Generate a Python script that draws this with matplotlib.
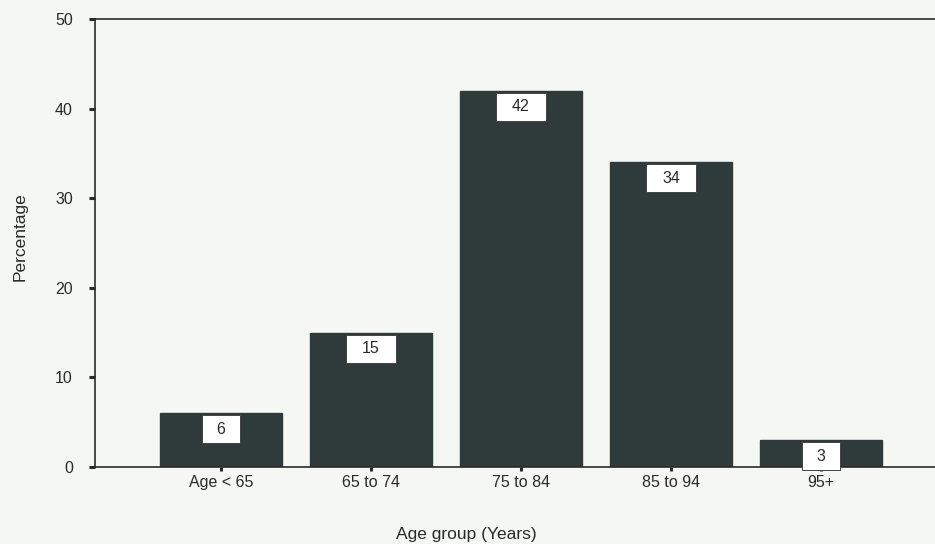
import matplotlib.pyplot as plt
from matplotlib.patches import Rectangle
from matplotlib.transforms import ScaledTranslation

plt.rcParams['font.family'] = ['Liberation Sans', 'DejaVu Sans']

age_groups = ["Age < 65", "65 to 74", "75 to 84", "85 to 94", "95+"]
percentages = [6, 15, 42, 34, 3]
y_ticks = [0, 10, 20, 30, 40, 50]

BG = "#f5f7f3"
BAR = "#2f3a3a"
INK = "#2a2a2a"
DPI = 100

fig = plt.figure(figsize=(9.35, 5.44), dpi=DPI, facecolor=BG)
ax = fig.add_axes([95 / 935, 77 / 544, 1 - 95 / 935, 448 / 544])
ax.set_facecolor(BG)

x = list(range(len(age_groups)))
ax.bar(x, percentages, width=0.81, color=BAR, edgecolor=BAR, zorder=2)

ax.set_xlim(-0.84, 4.76)
ax.set_ylim(0, 50)

# white value boxes hanging just under the top of each bar (sizes in pixels)
for xi, v in zip(x, percentages):
    label = str(v)
    w_px = 26 + 12 * len(label)
    h_px = 28
    top_gap = 2
    anchor = fig.dpi_scale_trans + ScaledTranslation(xi, v, ax.transData)
    box = Rectangle((-w_px / 2 / DPI, -(h_px + top_gap) / DPI), w_px / DPI, h_px / DPI,
                    transform=anchor, fc="white", ec="#444444", lw=0.7, zorder=3,
                    clip_on=False)
    ax.add_patch(box)
    ax.text(0, -(h_px / 2 + top_gap) / DPI, label, transform=anchor,
            ha="center", va="center", fontsize=11.5, color=INK, zorder=4)

ax.set_yticks(y_ticks)
ax.set_xticks(x)
ax.set_xticklabels(age_groups)

for side in ("left", "top", "bottom"):
    ax.spines[side].set_color(INK)
    ax.spines[side].set_linewidth(1.2)
ax.spines["right"].set_visible(False)

ax.tick_params(axis="y", direction="out", length=4, width=2.2, pad=12,
               labelsize=11.5, colors=INK)
ax.tick_params(axis="x", direction="out", length=3, width=2.2, pad=3,
               labelsize=11.5, colors=INK)

fig.text(20 / 935, 1 - 237 / 544, "Percentage", rotation=90, ha="center",
         va="center", fontsize=12.5, color=INK)
fig.text(466 / 935, 1 - 535 / 544, "Age group (Years)", ha="center",
         va="center", fontsize=12.5, color=INK)

fig.savefig("out.png", dpi=DPI, facecolor=BG)
